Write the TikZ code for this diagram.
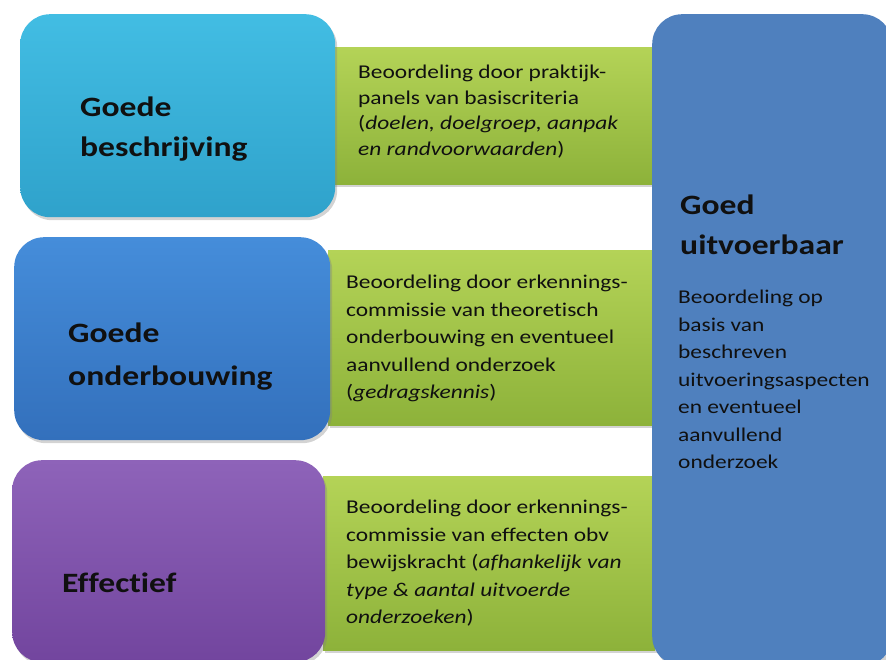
\documentclass[tikz,border=0pt]{standalone}
\usepackage{fontspec}
\setmainfont{Carlito}[FakeStretch=1.2,Ligatures={NoCommon}]
\usetikzlibrary{shadows}
\definecolor{cyanT}{HTML}{42BDE3}
\definecolor{cyanB}{HTML}{2FA2CB}
\definecolor{blueT}{HTML}{458DDA}
\definecolor{blueB}{HTML}{3370BC}
\definecolor{purT}{HTML}{8E63B9}
\definecolor{purB}{HTML}{72459E}
\definecolor{rightC}{HTML}{4F80BE}
\definecolor{grT}{HTML}{B4D357}
\definecolor{grB}{HTML}{8DB23A}
\definecolor{txt}{HTML}{101010}
\tikzset{
  shade/.style={drop shadow={opacity=0.35,shadow xshift=2pt,shadow yshift=-3pt}},
  mainbox/.style={shade,rounded corners=30pt,draw=none,anchor=north west,inner sep=0pt},
  greenbar/.style={shade,draw=none,anchor=north west,inner sep=0pt,top color=grT,bottom color=grB},
  bigtxt/.style={anchor=base west,inner sep=0pt,font=\fontsize{28}{40}\selectfont\bfseries,text=txt},
  smalltxt/.style={anchor=north west,inner sep=0pt,align=left,font=\fontsize{19.5}{27.5}\selectfont,text=txt},
}
\begin{document}
\begin{tikzpicture}[x=1pt,y=-1pt]
\useasboundingbox (0,0) rectangle (886,660);
% green bars
\node[greenbar,minimum width=322pt,minimum height=137pt] (g1) at (333,47) {};
\node[greenbar,minimum width=327pt,minimum height=175pt] (g2) at (328,250) {};
\node[greenbar,minimum width=332pt,minimum height=174pt] (g3) at (323,476) {};
% left boxes
\node[mainbox,top color=cyanT,bottom color=cyanB,minimum width=315pt,minimum height=203pt] (b1) at (20,14) {};
\node[mainbox,top color=blueT,bottom color=blueB,minimum width=316pt,minimum height=203pt] (b2) at (14,237) {};
\node[mainbox,top color=purT,bottom color=purB,minimum width=313pt,minimum height=202pt] (b3) at (12,460) {};
% right box
\node[mainbox,fill=rightC,minimum width=240pt,minimum height=652pt] (r) at (652,14) {};
% titles
\node[bigtxt] (t1a) at (80,117) {Goede};
\node[bigtxt] (t1b) at (80,157) {beschrijving};
\node[bigtxt] (t2a) at (68,342) {Goede};
\node[bigtxt] (t2b) at (68,385) {onderbouwing};
\node[bigtxt] (t3) at (62,592) {Effectief};
\node[bigtxt] (t4a) at (680,215) {Goed};
\node[bigtxt] (t4b) at (680,255) {uitvoerbaar};
% descriptions
\node[smalltxt,font=\fontsize{19.5}{25.5}\selectfont] (d1) at (358,65) {Beoordeling door praktijk-\\panels van basiscriteria\\(\textit{doelen, doelgroep, aanpak}\\\textit{en randvoorwaarden})};
\node[smalltxt] (d2) at (346,275) {Beoordeling door erkennings-\\commissie van theoretisch\\onderbouwing en eventueel\\aanvullend onderzoek\\(\textit{gedragskennis})};
\node[smalltxt] (d3) at (346,500) {Beoordeling door erkennings-\\commissie van effecten obv\\bewijskracht (\textit{afhankelijk van}\\\textit{type \& aantal uitvoerde}\\\textit{onderzoeken})};
\node[smalltxt] (d4) at (678,290) {Beoordeling op\\basis van\\beschreven\\uitvoeringsaspecten\\en eventueel\\aanvullend\\onderzoek};
\end{tikzpicture}
\end{document}
